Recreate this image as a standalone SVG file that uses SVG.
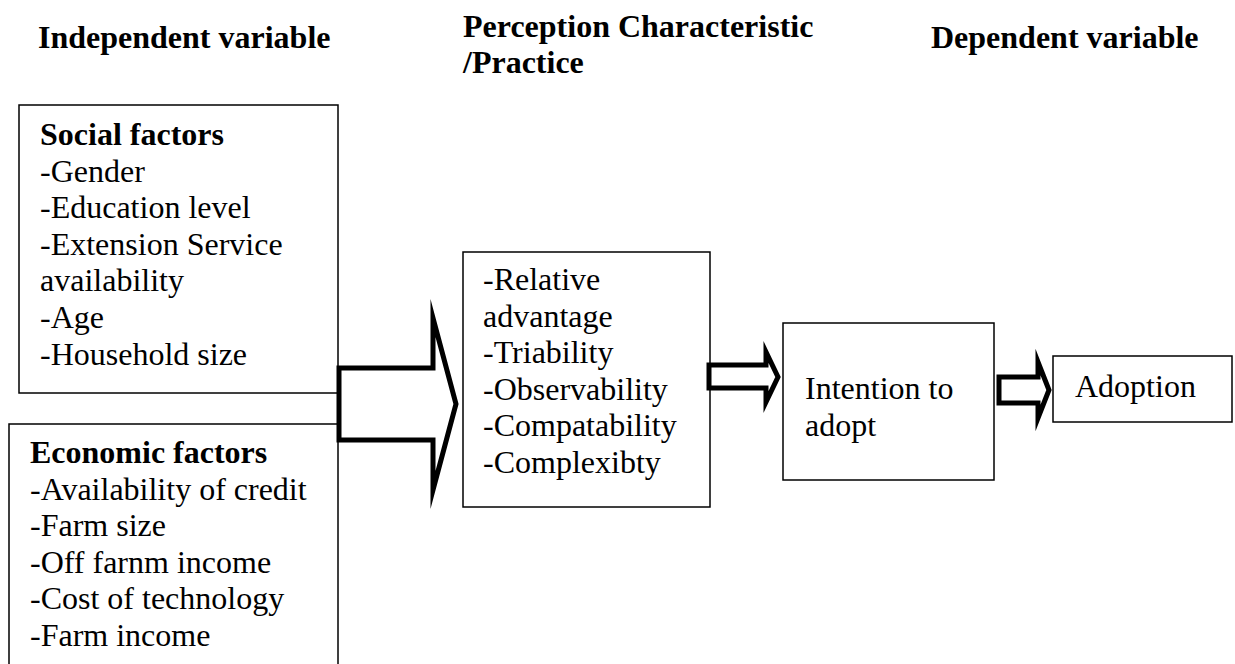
<svg xmlns="http://www.w3.org/2000/svg" width="1235" height="664" viewBox="0 0 1235 664">
<style>
text { font-size: 32px; fill: #000; }
.h { font-weight: bold; }
.box { fill: #fff; stroke: #000; stroke-width: 1.5; }
.arr { fill: #fff; stroke: #000; stroke-width: 5; stroke-linejoin: miter; stroke-miterlimit: 10; }
</style>
<rect width="1235" height="664" fill="#fff"/>
<g font-family="'Liberation Serif', 'Times New Roman', Tinos, 'DejaVu Serif', 'Noto Serif', serif">
<g id="headers">
<text class="h" x="38" y="48">Independent variable</text>
<text class="h" x="463" y="37">Perception Characteristic</text>
<text class="h" x="463" y="73">/Practice</text>
<text class="h" x="931" y="48">Dependent variable</text>
</g>
<g id="social">
<rect class="box" x="19" y="105" width="319" height="288"/>
<text class="h" x="40" y="145">Social factors</text>
<text x="40" y="181.6">-Gender</text>
<text x="40" y="218.2">-Education level</text>
<text x="40" y="254.8">-Extension Service</text>
<text x="40" y="291.4">availability</text>
<text x="40" y="328">-Age</text>
<text x="40" y="364.6">-Household size</text>
</g>
<g id="economic">
<rect class="box" x="9" y="424" width="329" height="260"/>
<text class="h" x="30" y="463">Economic factors</text>
<text x="30" y="499.6">-Availability of credit</text>
<text x="30" y="536.2">-Farm size</text>
<text x="30" y="572.8">-Off farnm income</text>
<text x="30" y="609.4">-Cost of technology</text>
<text x="30" y="646">-Farm income</text>
</g>
<g id="perception">
<rect class="box" x="463" y="252" width="247" height="255"/>
<text x="483" y="290">-Relative</text>
<text x="483" y="326.6">advantage</text>
<text x="483" y="363.2">-Triability</text>
<text x="483" y="399.8">-Observability</text>
<text x="483" y="436.4">-Compatability</text>
<text x="483" y="473">-Complexibty</text>
</g>
<g id="intention">
<rect class="box" x="783" y="323" width="211" height="157"/>
<text x="805" y="399">Intention to</text>
<text x="805" y="435.6">adopt</text>
</g>
<g id="adoption">
<rect class="box" x="1053" y="356" width="179" height="66"/>
<text x="1075" y="397">Adoption</text>
</g>
</g>
<g id="connectors">
<polygon class="arr" points="339,368 433,368 433,318 456,404 433,490 433,440 339,440"/>
<polygon class="arr" points="709,365 766,365 766,352 778,377 766,402 766,388 709,388"/>
<polygon class="arr" points="999,377 1038,377 1038,362 1049,390 1038,418 1038,403 999,403"/>
</g>
</svg>
